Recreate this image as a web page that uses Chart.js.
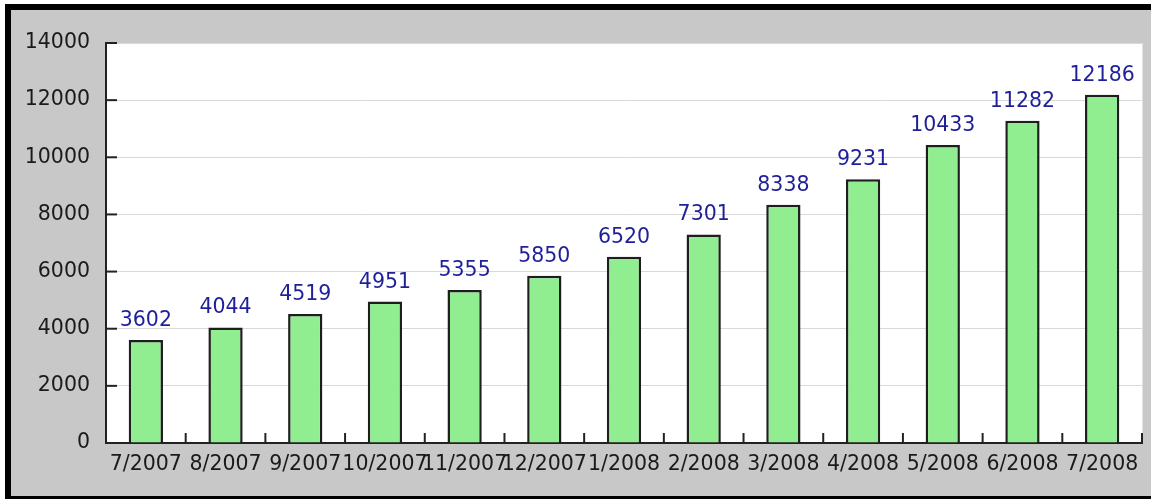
<!DOCTYPE html>
<html lang="en">
<head>
  <meta charset="UTF-8" />
  <title>Monthly totals 7/2007 - 7/2008</title>
  <script src="https://cdn.jsdelivr.net/npm/chart.js"></script>
  <style>
    html, body { margin: 0; padding: 0; background: #fff; }
    body { width: 1151px; height: 501px; position: relative; overflow: hidden; }
    #frame {
      position: absolute; left: 5px; top: 4px; right: 0; bottom: 2px;
      background: #c8c8c8;
      border-left: 6px solid #000; border-top: 6px solid #000; border-bottom: 3px solid #000;
    }
    #chart { position: absolute; left: 0; top: 0; }
  </style>
</head>
<body>
  <div id="frame"></div>
  <canvas id="chart" width="1151" height="501"></canvas>

  <script>
    // data
    const months = ['7/2007', '8/2007', '9/2007', '10/2007', '11/2007', '12/2007',
                    '1/2008', '2/2008', '3/2008', '4/2008', '5/2008', '6/2008', '7/2008'];
    const totals = [3602, 4044, 4519, 4951, 5355, 5850, 6520, 7301, 8338, 9231, 10433, 11282, 12186];
    const yMax  = 14000;
    const yStep = 2000;

    const FONT = '"DejaVu Sans", Verdana, sans-serif';
    const FSIZE = 20.5;

    // white plot background + inner tick marks + value labels
    const decor = {
      id: 'decor',
      beforeDraw(chart) {
        const { ctx, chartArea: a } = chart;
        ctx.save();
        ctx.fillStyle = '#fff';
        ctx.fillRect(a.left, a.top, a.right - a.left, a.bottom - a.top);
        ctx.strokeStyle = '#e2e2e2';
        ctx.lineWidth = 1;
        ctx.strokeRect(a.left + 0.5, a.top + 0.5, a.right - a.left, a.bottom - a.top);
        ctx.restore();
      },
      afterDatasetsDraw(chart) {
        const { ctx, chartArea: a, scales } = chart;
        ctx.save();
        ctx.strokeStyle = '#222';
        ctx.lineWidth = 2;
        // y ticks, pointing into the plot
        scales.y.ticks.forEach((t, i) => {
          const y = scales.y.getPixelForTick(i);
          ctx.beginPath();
          ctx.moveTo(a.left, y);
          ctx.lineTo(a.left + 11, y);
          ctx.stroke();
        });
        // x ticks at category boundaries
        for (let i = 0; i < months.length; i++) {
          const x = i < months.length - 1
            ? (scales.x.getPixelForValue(i) + scales.x.getPixelForValue(i + 1)) / 2
            : a.right;
          ctx.beginPath();
          ctx.moveTo(x, a.bottom);
          ctx.lineTo(x, a.bottom - 10);
          ctx.stroke();
        }
        // value labels
        ctx.fillStyle = '#1f1f99';
        ctx.font = FSIZE + 'px ' + FONT;
        ctx.textAlign = 'center';
        ctx.textBaseline = 'alphabetic';
        chart.getDatasetMeta(0).data.forEach((bar, i) => {
          ctx.fillText(String(totals[i]), bar.x, bar.y - 14);
        });
        ctx.restore();
      }
    };

    new Chart(document.getElementById('chart'), {
      type: 'bar',
      data: {
        labels: months,
        datasets: [{
          data: totals,
          backgroundColor: '#90ee90',
          borderColor: '#1e1e1e',
          borderWidth: 2.5,
          borderSkipped: 'start',
          categoryPercentage: 1,
          barPercentage: 0.43,
        }],
      },
      options: {
        responsive: false,
        animation: false,
        layout: { padding: { left: 0, top: 43, right: 9, bottom: 0 } },
        plugins: {
          legend: { display: false },
          tooltip: { enabled: false },
        },
        scales: {
          x: {
            afterFit(s) { s.height = 58; },
            grid: { display: false, drawTicks: false },
            border: { display: true, color: '#222', width: 2 },
            ticks: {
              autoSkip: false, maxRotation: 0, minRotation: 0,
              padding: 9, color: '#1a1a1a',
              font: { family: FONT, size: FSIZE },
            },
          },
          y: {
            min: 0, max: yMax,
            afterFit(s) { s.width = 106; },
            grid: { color: '#d9d9d9', lineWidth: 1, drawTicks: false },
            border: { display: true, color: '#222', width: 2 },
            ticks: {
              stepSize: yStep, padding: 16, color: '#1a1a1a',
              font: { family: FONT, size: FSIZE },
              callback: v => String(v),
            },
          },
        },
      },
      plugins: [decor],
    });
  </script>
</body>
</html>
